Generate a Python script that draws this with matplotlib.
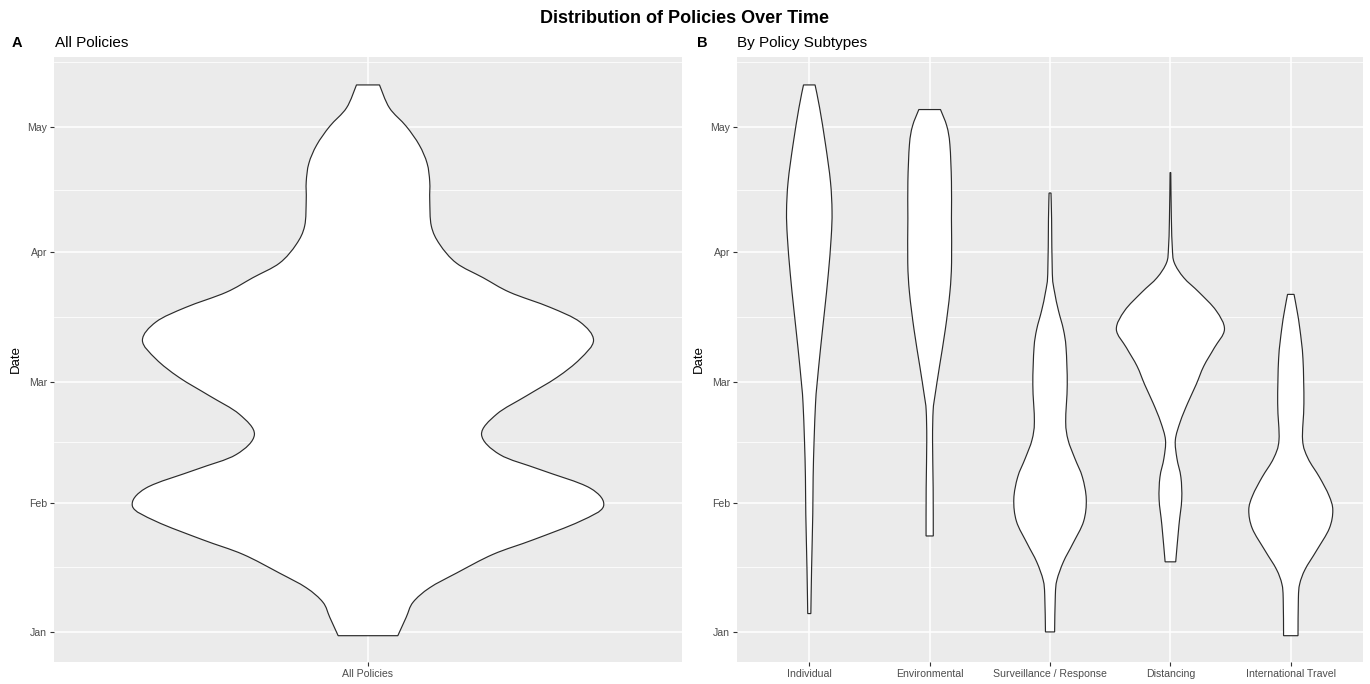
import matplotlib
matplotlib.use("Agg")
import matplotlib.pyplot as plt
from matplotlib.path import Path
from matplotlib.patches import PathPatch
import numpy as np

plt.rcParams["font.family"] = ["Liberation Sans", "DejaVu Sans"]

# y axis: days since 2020-01-01
month_ticks = [0, 31, 60, 91, 121]
month_labels = ["Jan", "Feb", "Mar", "Apr", "May"]
minor_ticks = [15.5, 45.5, 75.5, 106, 136.5]

# violin outlines: (day, half width in category units)
all_days = [-0.9, 3.5, 7.1, 10.6, 14.1, 18.6, 22.1, 26.5, 30.1, 34.5, 38.9, 42.5,
            47.3, 52.2, 56.6, 61.0, 65.4, 69.9, 74.3, 77.8, 81.4, 84.9, 88.4,
            92.9, 97.3, 103.5, 107.9, 112.3, 116.7, 121.2, 125.6, 131.1]
all_width = [0.057, 0.073, 0.086, 0.118, 0.169, 0.239, 0.316, 0.405, 0.45, 0.424,
             0.329, 0.252, 0.217, 0.246, 0.303, 0.361, 0.405, 0.431, 0.405, 0.348,
             0.271, 0.220, 0.169, 0.137, 0.121, 0.118, 0.118, 0.113, 0.098, 0.073,
             0.041, 0.022]

subtypes = ["Individual", "Environmental", "Surveillance / Response",
            "Distancing", "International Travel"]

individual_days = [4.4, 15, 28.3, 37.1, 46, 54.8, 59.3, 68.1, 77, 85.8, 94.6,
                   100.8, 107.9, 116.8, 125.6, 131.1]
individual_width = [0.013, 0.019, 0.029, 0.032, 0.040, 0.052, 0.064, 0.094, 0.127,
                    0.158, 0.182, 0.189, 0.176, 0.135, 0.086, 0.048]

environmental_days = [23, 34.5, 46, 53.1, 56.6, 63.7, 72.5, 81.4, 88.5, 99.1,
                      107.9, 116.8, 121.2, 125.2]
environmental_width = [0.030, 0.029, 0.024, 0.029, 0.044, 0.082, 0.130, 0.168,
                       0.182, 0.181, 0.181, 0.168, 0.143, 0.090]

surveillance_days = [0, 8.8, 12.4, 16.8, 21.2, 26.5, 31.8, 37.1, 41.6, 46, 50.4,
                     59.3, 68.1, 72.5, 77, 81.4, 85.8, 99, 105.2]
surveillance_width = [0.038, 0.044, 0.057, 0.111, 0.190, 0.279, 0.301, 0.269,
                      0.206, 0.150, 0.130, 0.143, 0.133, 0.111, 0.070, 0.038,
                      0.019, 0.013, 0.008]

distancing_days = [16.8, 25.6, 31.8, 37.1, 41.6, 46, 50.4, 54.8, 59.3, 63.7, 68.1,
                   72.5, 77, 81.4, 84.9, 88.5, 92, 99, 110.1]
distancing_width = [0.044, 0.071, 0.094, 0.087, 0.054, 0.041, 0.082, 0.143, 0.214,
                    0.277, 0.365, 0.449, 0.380, 0.238, 0.111, 0.032, 0.016, 0.008,
                    0.003]

travel_days = [-0.9, 8, 11.5, 15, 19.5, 24.8, 29.2, 32.7, 37.1, 41.6, 46, 54.8,
               65.5, 72.5, 77, 80.9]
travel_width = [0.060, 0.063, 0.074, 0.119, 0.214, 0.320, 0.349, 0.317, 0.238,
                0.143, 0.098, 0.109, 0.101, 0.076, 0.052, 0.027]

subtype_days = [individual_days, environmental_days, surveillance_days,
                distancing_days, travel_days]
subtype_width = [individual_width, environmental_width, surveillance_width,
                 distancing_width, travel_width]


def curve(pts):
    # smooth curve through the points (catmull-rom as bezier)
    verts, n = [], len(pts)
    for i in range(n - 1):
        p0 = pts[max(i - 1, 0)]
        p1 = pts[i]
        p2 = pts[i + 1]
        p3 = pts[min(i + 2, n - 1)]
        verts += [p1 + (p2 - p0) / 6, p2 - (p3 - p1) / 6, p2]
    return verts


def violin(ax, pos, days, width):
    d = np.array(days, float)
    w = np.array(width, float)
    right = np.column_stack([pos + w, d])
    left = np.column_stack([pos - w, d])[::-1]
    verts = [right[0]] + curve(right) + [left[0]] + curve(left) + [right[0]]
    codes = ([Path.MOVETO] + [Path.CURVE4] * (3 * (len(d) - 1)) + [Path.LINETO]
             + [Path.CURVE4] * (3 * (len(d) - 1)) + [Path.CLOSEPOLY])
    ax.add_patch(PathPatch(Path(verts, codes), facecolor="white",
                           edgecolor="#2b2b2b", lw=0.85, zorder=3))


def style(ax, labels):
    ax.set_facecolor("#EBEBEB")
    for s in ax.spines.values():
        s.set_visible(False)
    ax.set_ylim(-7.2, 137.8)
    ax.set_xlim(0.4, len(labels) + 0.6)
    ax.set_yticks(month_ticks)
    ax.set_yticklabels(month_labels)
    ax.set_yticks(minor_ticks, minor=True)
    ax.set_xticks(range(1, len(labels) + 1))
    ax.set_xticklabels(labels)
    ax.grid(True, which="major", color="white", lw=1.1, zorder=0)
    ax.grid(True, which="minor", axis="y", color="white", lw=0.55, zorder=0)
    ax.set_axisbelow(True)
    ax.tick_params(which="major", length=3, width=0.8, color="#333333",
                   labelsize=7.6, labelcolor="#4D4D4D", pad=2)
    ax.tick_params(which="minor", length=0)
    ax.set_ylabel("Date", fontsize=9.5, labelpad=4)


fig = plt.figure(figsize=(13.7, 6.84), dpi=100)
ax1 = fig.add_axes([0.0394, 0.0322, 0.4584, 0.8845])
ax2 = fig.add_axes([0.5380, 0.0322, 0.4569, 0.8845])

style(ax1, ["All Policies"])
violin(ax1, 1, all_days, all_width)

style(ax2, subtypes)
for i in range(len(subtypes)):
    violin(ax2, i + 1, subtype_days[i], subtype_width[i])

fig.text(0.5, 0.973, "Distribution of Policies Over Time", ha="center",
         va="center", fontsize=13, fontweight="bold")
fig.text(0.0085, 0.937, "A", ha="left", va="center", fontsize=10.5, fontweight="bold")
fig.text(0.040, 0.937, "All Policies", ha="left", va="center", fontsize=11)
fig.text(0.509, 0.937, "B", ha="left", va="center", fontsize=10.5, fontweight="bold")
fig.text(0.538, 0.937, "By Policy Subtypes", ha="left", va="center", fontsize=11)

fig.savefig("out.png", dpi=100)
